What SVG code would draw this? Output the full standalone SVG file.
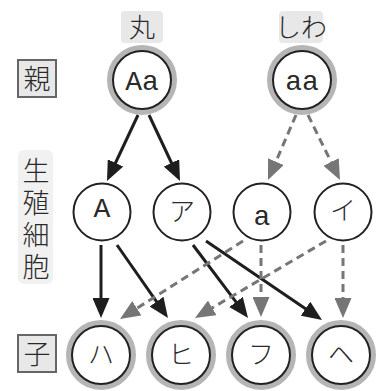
<svg xmlns="http://www.w3.org/2000/svg" width="388" height="391" viewBox="0 0 388 391">
<style>
.jp{font-family:"Noto Sans CJK JP","Noto Sans CJK SC",sans-serif;fill:#2a2a2a;text-anchor:middle;font-weight:300}
.mono{font-family:"Liberation Mono","Courier New",monospace;fill:#2a2a2a;text-anchor:middle;font-size:28px}
.ring{fill:none;stroke:#b5b5b5;stroke-width:6}
.node{fill:#fff;stroke:#222;stroke-width:2}
.box{fill:#e8e8e8;stroke:#666;stroke-width:2}
.tag{fill:#e8e8e8}
.solid{stroke:#1e1e1e;stroke-width:3;fill:none;marker-end:url(#ab)}
.dash{stroke:#767676;stroke-width:3;fill:none;stroke-dasharray:8 5;marker-end:url(#ag)}
</style>
<defs>
<marker id="ab" markerUnits="userSpaceOnUse" markerWidth="20" markerHeight="17" refX="4" refY="8.5" orient="auto" viewBox="0 0 20 17">
<path d="M0,0 L20,8.5 L0,17 Z" fill="#1e1e1e"/>
</marker>
<marker id="ag" markerUnits="userSpaceOnUse" markerWidth="20" markerHeight="17" refX="4" refY="8.5" orient="auto" viewBox="0 0 20 17">
<path d="M0,0 L20,8.5 L0,17 Z" fill="#767676"/>
</marker>
</defs>
<rect width="388" height="391" fill="#fff"/>
<g id="labels">
<rect class="tag" x="121" y="11" width="42" height="32" rx="4"/>
<text class="jp" x="142" y="37" font-size="26">丸</text>
<rect class="tag" x="279" y="11" width="44" height="32" rx="4"/>
<text class="jp" x="301" y="37" font-size="26">しわ</text>
<rect class="box" x="18" y="60" width="38" height="37"/>
<text class="jp" x="37" y="89" font-size="27">親</text>
<rect x="18" y="150" width="35" height="134" rx="6" fill="#f1f1f1"/>
<text class="jp" x="36" y="221" font-size="27" writing-mode="vertical-rl" letter-spacing="5">生殖細胞</text>
<rect class="box" x="18" y="335" width="38" height="37"/>
<text class="jp" x="37" y="364" font-size="27">子</text>
</g>
<g id="connectors">
<line class="solid" x1="138" y1="115" x2="113.8" y2="166.5"/>
<line class="solid" x1="149" y1="115" x2="173.2" y2="166.5"/>
<line class="dash" x1="296" y1="115" x2="274.3" y2="165.3"/>
<line class="dash" x1="308" y1="115" x2="332.9" y2="165.6"/>
<line class="solid" x1="101" y1="245" x2="101" y2="302"/>
<line class="solid" x1="117" y1="245" x2="158.8" y2="304.9"/>
<line class="solid" x1="193" y1="245" x2="238.4" y2="305.2"/>
<line class="solid" x1="206" y1="241" x2="308.8" y2="311"/>
<line class="dash" x1="243" y1="241" x2="133.5" y2="310.4"/>
<line class="dash" x1="261" y1="245" x2="261" y2="301"/>
<line class="dash" x1="326" y1="241" x2="208.8" y2="309.9"/>
<line class="dash" x1="343" y1="245" x2="343" y2="302"/>
</g>
<g id="parent-Aa">
<circle class="ring" cx="142" cy="80" r="32"/>
<circle class="node" cx="142" cy="80" r="29"/>
<text class="mono" x="142" y="90">Aa</text>
</g>
<g id="parent-aa">
<circle class="ring" cx="302" cy="80" r="32"/>
<circle class="node" cx="302" cy="80" r="29"/>
<text class="mono" x="302" y="90">aa</text>
</g>
<g id="gamete-A">
<circle class="node" cx="102" cy="212" r="28.5"/>
<text class="mono" x="102" y="217">A</text>
</g>
<g id="gamete-a-kana">
<circle class="node" cx="182" cy="212" r="28.5"/>
<text class="jp" x="182" y="221" font-size="26">ア</text>
</g>
<g id="gamete-a">
<circle class="node" cx="262" cy="212" r="28.5"/>
<text class="mono" x="262" y="225">a</text>
</g>
<g id="gamete-i">
<circle class="node" cx="343" cy="212" r="28.5"/>
<text class="jp" x="343" y="220" font-size="26">イ</text>
</g>
<g id="child-ha">
<circle class="ring" cx="101" cy="355" r="32"/>
<circle class="node" cx="101" cy="355" r="29"/>
<text class="jp" x="101" y="364" font-size="26">ハ</text>
</g>
<g id="child-hi">
<circle class="ring" cx="181" cy="355" r="32"/>
<circle class="node" cx="181" cy="355" r="29"/>
<text class="jp" x="181" y="364" font-size="26">ヒ</text>
</g>
<g id="child-fu">
<circle class="ring" cx="261" cy="355" r="32"/>
<circle class="node" cx="261" cy="355" r="29"/>
<text class="jp" x="261" y="364" font-size="26">フ</text>
</g>
<g id="child-he">
<circle class="ring" cx="341" cy="355" r="32"/>
<circle class="node" cx="341" cy="355" r="29"/>
<text class="jp" x="341" y="364" font-size="26">ヘ</text>
</g>
</svg>
